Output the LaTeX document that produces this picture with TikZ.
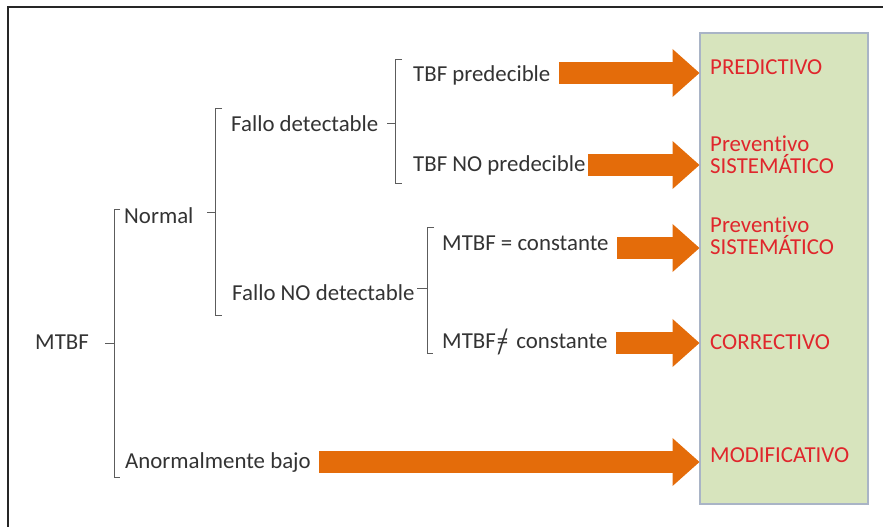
\documentclass[tikz,border=0pt]{standalone}
\usepackage{fontspec}
\setmainfont{Carlito}[Ligatures=NoCommon]
\usepackage{graphicx}
\usepackage{xcolor}
\usepackage{tikz}
\usetikzlibrary{arrows.meta,positioning,calc}

\definecolor{arrorange}{HTML}{E46C0A}
\definecolor{boxgreen}{HTML}{D7E4BD}
\definecolor{boxline}{HTML}{A9B4C6}
\definecolor{labred}{HTML}{E0262C}
\definecolor{txtgray}{HTML}{333333}

\begin{document}
\begin{tikzpicture}[
  x=0.03cm, y=-0.03cm,
  font=\fontsize{19.5}{18.7}\selectfont,
  item/.style={inner sep=0pt,anchor=base west,text=txtgray},
  result/.style={inner sep=0pt,anchor=west,text=labred,align=left},
  brace/.style={draw=txtgray!80,line width=0.8pt},
  bigarrow/.style={draw=arrorange,line width=19.6pt,shorten <=7pt,
    -{Triangle[length=23pt,width=41pt,line width=0pt]}},
]
\useasboundingbox (0,0) rectangle (883,527);
\draw[line width=1.8pt,black!85] (8,527) -- (8,7) -- (883,7);

% column of maintenance types
\node[draw=boxline,fill=boxgreen,line width=0.9pt,minimum width=5.04cm,minimum height=14.13cm,inner sep=0pt] (types) at (784,268.5) {};
\node[result] (pred) at (710,67) {PREDICTIVO};
\node[result] (prevA) at (710,155) {Preventivo\\SISTEMÁTICO};
\node[result] (prevB) at (710,235.5) {Preventivo\\SISTEMÁTICO};
\node[result] (corr) at (710,342) {CORRECTIVO};
\node[result] (modif) at (710,455) {MODIFICATIVO};

% tree
\node[item] (mtbf) at (35,349) {MTBF};
\node[item] (normal) at (124,223) {Normal};
\node[item] (anorm) at (125,468) {Anormalmente bajo};
\node[item] (fdet) at (231,131) {Fallo detectable};
\node[item] (fnodet) at (232,300) {Fallo NO detectable};
\node[item] (tbfp) at (413,81) {TBF predecible};
\node[item] (tbfnp) at (413,171) {TBF NO predecible};
\node[item] (mconst) at (442,250) {MTBF = constante};
\node[item] (mnconst) at (442,348) {MTBF\hspace{0.05em}{\ooalign{\hfil=\hfil\cr\hfil\raisebox{-0.22em}{\scalebox{1.1}[1.55]{/}}\hfil\cr}}\hspace{0.35em}constante};

\draw[brace] (105,343) -- (114,343);
\draw[brace] (120,209) -- (114,209) -- (114,477) -- (120,477);
\draw[brace] (207,212) -- (215,212);
\draw[brace] (222,108) -- (215,108) -- (215,315) -- (222,315);
\draw[brace] (387,123) -- (395,123);
\draw[brace] (402,59) -- (395,59) -- (395,183) -- (402,183);
\draw[brace] (417,288) -- (427,288);
\draw[brace] (434,227) -- (427,227) -- (427,353) -- (433,353);

\draw[bigarrow] (tbfp.east |- 0,73) -- (types.west |- 0,73);
\draw[bigarrow,shorten <=2pt] (tbfnp.east |- 0,165) -- (types.west |- 0,165);
\draw[bigarrow] (mconst.east |- 0,248) -- (types.west |- 0,248);
\draw[bigarrow] (mnconst.east |- 0,343) -- (types.west |- 0,343);
\draw[bigarrow] (anorm.east |- 0,462) -- (types.west |- 0,462);
\end{tikzpicture}
\end{document}
